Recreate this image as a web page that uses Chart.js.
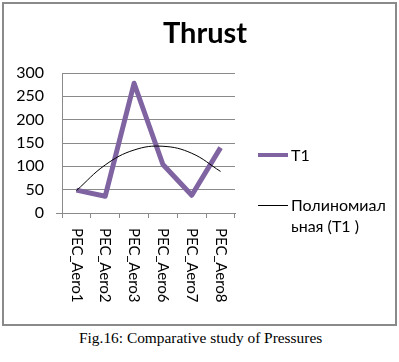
<!DOCTYPE html>
<html>
<head>
<meta charset="utf-8">
<script src="https://cdn.jsdelivr.net/npm/chart.js@4/dist/chart.umd.min.js"></script>
<style>
  body { margin: 0; background: #fff; width: 399px; height: 362px; overflow: hidden; position: relative; }
  #frame { position: absolute; left: 2px; top: 2px; width: 395px; height: 324px; box-sizing: border-box; border: 2px solid #8a8a8a; }
  #wrap { position: absolute; left: 0; top: 0; width: 399px; height: 325px; }
  .txt { position: absolute; font-family: Lato, 'Open Sans', sans-serif; color: #000; white-space: nowrap; }
  #title { left: 105px; top: 14px; width: 200px; text-align: center; font-weight: bold; font-size: 29px; line-height: 36px; }
  .leg-line { position: absolute; left: 258px; width: 30px; }
  #caption { position: absolute; left: 79px; top: 329px; font-family: 'Liberation Serif', 'Times New Roman', serif; font-size: 15.4px; line-height: 18px; color: #000; white-space: nowrap; }
</style>
</head>
<body>
<div id="frame"></div>
<div id="wrap"><canvas id="thrustChart" width="399" height="325"></canvas></div>
<div id="title" class="txt">Thrust</div>
<div class="leg-line" style="top:153px;height:4px;background:#8064A2"></div>
<div class="txt" style="left:291px;top:144px;font-size:16px;line-height:21px">T1</div>
<div class="leg-line" style="top:205px;height:1px;background:#000"></div>
<div class="txt" style="left:291px;top:194px;font-size:16px;line-height:21px">Полиномиал<br>ьная (T1 )</div>
<div id="caption">Fig.16: Comparative study of Pressures</div>
<script>
const categories = ['PEC_Aero1', 'PEC_Aero2', 'PEC_Aero3', 'PEC_Aero6', 'PEC_Aero7', 'PEC_Aero8'];
const t1Values = [49, 36, 278, 104, 38, 140];
// polynomial trendline
const trendValues = [48, 103, 135, 143, 128, 89];
const yTicks = [0, 50, 100, 150, 200, 250, 300];

// x labels read top-to-bottom, so they are drawn here instead of by the axis
const verticalLabels = {
    id: 'verticalLabels',
    afterDraw(chart) {
        const scale = chart.scales.x;
        const ctx = chart.ctx;
        ctx.save();
        ctx.font = '15px Lato, "Open Sans", sans-serif';
        ctx.fillStyle = '#000';
        ctx.textAlign = 'left';
        ctx.textBaseline = 'middle';
        categories.forEach((label, i) => {
            const x = scale.getPixelForTick(i);
            ctx.save();
            ctx.translate(x, scale.top + 15);
            ctx.rotate(Math.PI / 2);
            ctx.fillText(label, 0, 0);
            ctx.restore();
        });
        // short stub of the horizontal axis left of the y axis
        const y0 = chart.scales.y.getPixelForValue(0);
        ctx.strokeStyle = '#8a8a8a';
        ctx.lineWidth = 1;
        ctx.beginPath();
        ctx.moveTo(scale.left - 6, Math.round(y0) + 0.5);
        ctx.lineTo(scale.left, Math.round(y0) + 0.5);
        ctx.stroke();
        ctx.restore();
    }
};

new Chart(document.getElementById('thrustChart'), {
    type: 'line',
    data: {
        labels: categories,
        datasets: [{
            label: 'Полиномиальная (T1 )',
            data: trendValues,
            borderColor: '#000',
            borderWidth: 1,
            tension: 0.4,
            pointRadius: 0,
            order: 0
        }, {
            label: 'T1',
            data: t1Values,
            borderColor: '#8064A2',
            borderWidth: 5,
            borderJoinStyle: 'round',
            tension: 0,
            pointRadius: 0,
            order: 1
        }]
    },
    options: {
        responsive: false,
        animation: false,
        layout: { padding: { left: 10, right: 164, top: 73, bottom: 0 } },
        plugins: { legend: { display: false }, title: { display: false }, tooltip: { enabled: false } },
        scales: {
            x: {
                offset: true,
                grid: { offset: true, drawOnChartArea: false, drawTicks: true, tickLength: 5, color: '#8a8a8a' },
                border: { color: '#8a8a8a' },
                ticks: { color: 'transparent', minRotation: 90, maxRotation: 90 },
                afterFit: s => { s.height = 112; }
            },
            y: {
                min: 0,
                max: 300,
                afterBuildTicks: s => { s.ticks = yTicks.map(v => ({ value: v })); },
                grid: { color: '#8a8a8a', drawTicks: false },
                border: { color: '#8a8a8a' },
                ticks: { color: '#000', padding: 18, font: { family: 'Lato, "Open Sans", sans-serif', size: 16 } },
                afterFit: s => { s.width = 52; }
            }
        }
    },
    plugins: [verticalLabels]
});
</script>
</body>
</html>
